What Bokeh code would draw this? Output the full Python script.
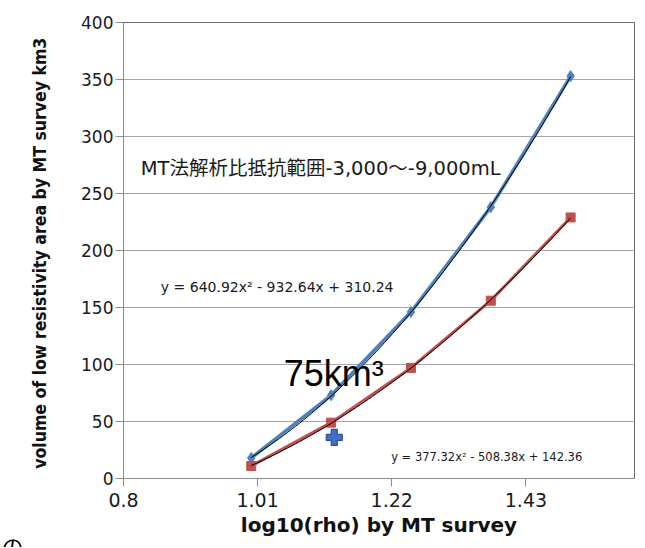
import numpy as np
from bokeh.plotting import figure
from bokeh.models import FixedTicker, Label, Range1d, Title
from bokeh.embed import file_html
from bokeh.resources import INLINE

# ---- data ----
x_vals = [1.0, 1.125, 1.25, 1.375, 1.5]
blue_vals = [18, 73, 146, 238, 353]
red_vals = [11, 49, 97, 156, 229]
point_x = [1.13]
point_y = [36]

x_ticks = [0.8, 1.01, 1.22, 1.43]
x_tick_labels = ["0.8", "1.01", "1.22", "1.43"]
y_ticks = [0, 50, 100, 150, 200, 250, 300, 350, 400]

title_text = "MT法解析比抵抗範囲-3,000～-9,000mL"
eq_blue = "y = 640.92x² - 932.64x + 310.24"
eq_red = "y = 377.32x² - 508.38x + 142.36"
volume_text = "75km³"
corner_text = "の"
x_label = "log10(rho) by MT survey"
y_label = "volume of low resistivity area by MT survey  km3"

BLUE = "#4f81bd"
RED = "#c0504d"

W, H = 637, 547
LEFT, RIGHT, TOP, BOTTOM = 123, 3, 22, 68
p = figure(width=W, height=H, x_range=Range1d(0.8, 1.6), y_range=Range1d(0, 400),
           output_backend="svg", toolbar_location=None,
           min_border_left=LEFT, min_border_right=RIGHT, min_border_top=TOP, min_border_bottom=BOTTOM)

p.background_fill_color = "white"
p.border_fill_color = "white"
p.outline_line_color = "#6b6b6b"
p.xgrid.visible = False
p.ygrid.grid_line_color = "#a6a6a6"
p.ygrid.grid_line_width = 1

for ax in (p.xaxis[0], p.yaxis[0]):
    ax.axis_line_color = "#8c8c8c"
    ax.major_tick_line_color = "#8c8c8c"
    ax.major_tick_out = 8
    ax.major_tick_in = 0
    ax.minor_tick_out = 0
    ax.minor_tick_in = 0
    ax.major_label_text_font = "DejaVu Sans"
    ax.major_label_text_color = "#1a1a1a"
    ax.axis_label_text_color = "#111111"
    ax.axis_label_text_font_style = "bold"

p.yaxis.ticker = FixedTicker(ticks=y_ticks)
p.yaxis.major_label_text_font_size = "17px"
p.yaxis.major_label_standoff = 2
p.yaxis.axis_label = y_label
p.yaxis.axis_label_text_font = "DejaVu Sans Condensed"
p.yaxis.axis_label_text_font_size = "17.5px"
p.yaxis.axis_label_standoff = 28

p.xaxis.ticker = FixedTicker(ticks=x_ticks)
p.xaxis.major_label_overrides = {t: s for t, s in zip(x_ticks, x_tick_labels)}
p.xaxis.major_label_text_font_size = "19px"
p.xaxis.major_label_standoff = 6
p.xaxis.axis_label = x_label
p.xaxis.axis_label_text_font = "DejaVu Sans"
p.xaxis.axis_label_text_font_size = "20px"
p.xaxis.axis_label_standoff = 3

# series lines and markers
p.line(x_vals, blue_vals, line_color=BLUE, line_width=3.5)
p.scatter(x_vals, blue_vals, marker="diamond", size=11, fill_color=BLUE, line_color=BLUE)
p.line(x_vals, red_vals, line_color=RED, line_width=3)
p.scatter(x_vals, red_vals, marker="square", size=9, fill_color=RED, line_color=RED)

# polynomial trendlines (fit from the data)
xs = np.linspace(min(x_vals), max(x_vals), 80)
cb = np.polyfit(x_vals, blue_vals, 2)
cr = np.polyfit(x_vals, red_vals, 2)
p.line(xs, np.polyval(cb, xs), line_color="black", line_width=1)
p.line(xs, np.polyval(cr, xs), line_color="black", line_width=1)

# single measured point
p.scatter(point_x, point_y, marker="plus", size=16, fill_color="#3f6fc6", line_color="#2a4f9a", line_width=1.2)

# annotations
p.add_layout(Label(x=0.827, y=272, text=title_text, text_baseline="middle",
                   text_font="'DejaVu Sans', 'Noto Sans CJK JP'", text_font_size="19.5px",
                   text_color="#1a1a1a"))
p.add_layout(Label(x=0.8585, y=168, text=eq_blue, text_baseline="middle",
                   text_font="DejaVu Sans", text_font_size="14px", text_color="#1a1a1a"))
p.add_layout(Label(x=1.219, y=18.5, text=eq_red, text_baseline="middle",
                   text_font="DejaVu Sans", text_font_size="11.5px", text_color="#1a1a1a"))
p.add_layout(Label(x=1.051, y=92, text=volume_text, text_baseline="middle",
                   text_font="Liberation Sans", text_font_size="36px", text_color="black"))

# fragment of text at the bottom-left corner (outside the plot frame), as a below title
p.add_layout(Title(text=corner_text, align="left", offset=-(LEFT - 1), standoff=-26,
                   text_font="Noto Sans CJK JP", text_font_size="22px",
                   text_font_style="normal", text_color="black"), "below")

open("out.html", "w").write(file_html(p, INLINE))
